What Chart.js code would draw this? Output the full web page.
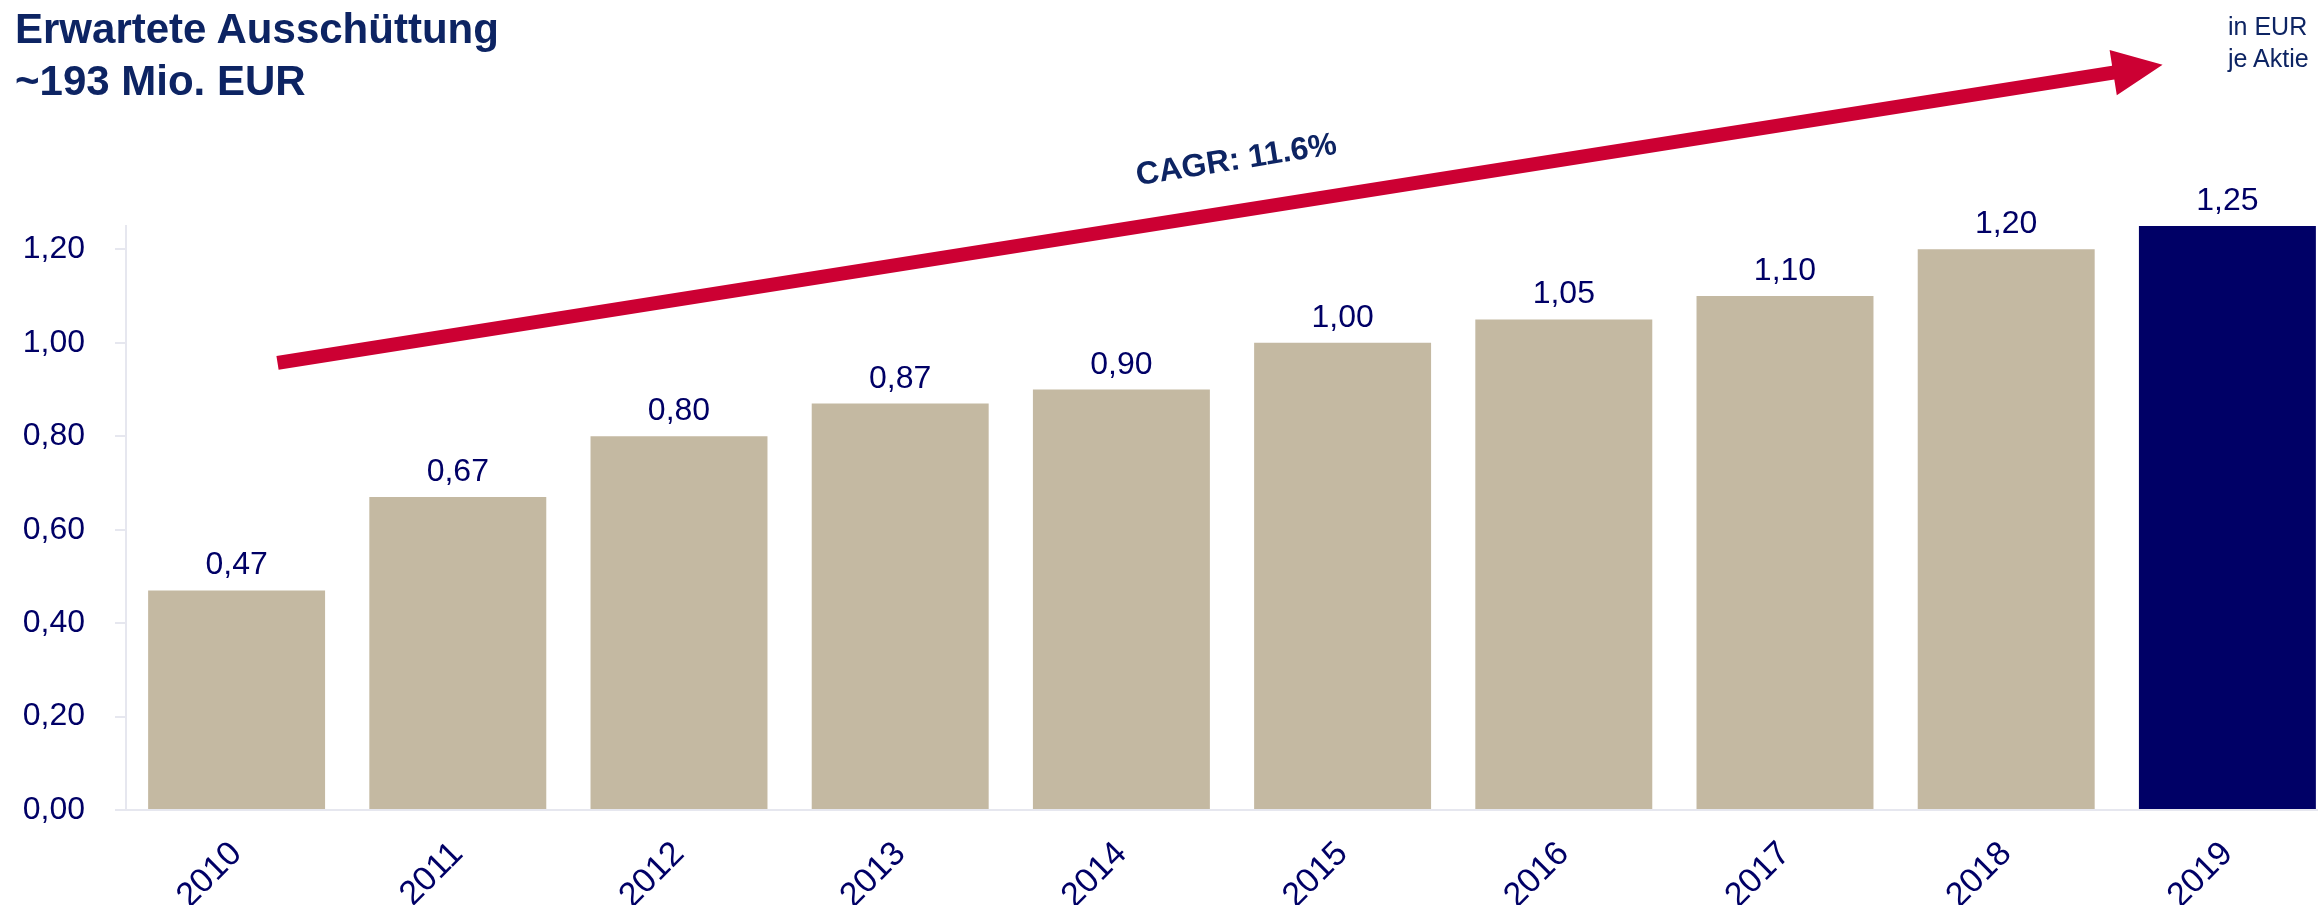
<!DOCTYPE html>
<html>
<head>
<meta charset="utf-8">
<script src="https://cdn.jsdelivr.net/npm/chart.js@4/dist/chart.umd.min.js"></script>
<style>
  html, body { margin: 0; padding: 0; background: #fff; overflow: hidden; }
  #wrap { position: relative; width: 2338px; height: 905px; }
  #chart { position: absolute; left: 0; top: 0; }
  .titel {
    position: absolute; left: 15px; top: 3px;
    font: bold 42px/52px "Liberation Sans", Arial, sans-serif;
    color: #0d2463;
  }
  .einheit {
    position: absolute; left: 2228px; top: 10px;
    font: 25px/32px "Liberation Sans", Arial, sans-serif;
    color: #0d2463;
  }
</style>
</head>
<body>
<div id="wrap">
  <canvas id="chart" width="2338" height="905"></canvas>
  <div class="titel">Erwartete Ausschüttung<br>~193 Mio. EUR</div>
  <div class="einheit">in EUR<br>je Aktie</div>
</div>
<script>
const jahre = ["2010", "2011", "2012", "2013", "2014", "2015", "2016", "2017", "2018", "2019"];
const ausschuettung = [0.47, 0.67, 0.80, 0.87, 0.90, 1.00, 1.05, 1.10, 1.20, 1.25];
const balkenFarben = ["#C4B9A2", "#C4B9A2", "#C4B9A2", "#C4B9A2", "#C4B9A2",
                      "#C4B9A2", "#C4B9A2", "#C4B9A2", "#C4B9A2", "#000066"];
const yTicks = [0, 0.2, 0.4, 0.6, 0.8, 1.0, 1.2];
const cagrText = "CAGR: 11.6%";
// Pfeil in Datenkoordinaten (x = Kategorie-Index, y = Wert)
const cagrPfeil = { von: [0.185, 0.957], bis: [8.707, 1.595] };
const cagrLabel = [4.52, 1.39];

const schrift = '"Liberation Sans", Arial, sans-serif';
const navy = "#000066";
const achsenGrau = "#e6e7ef";

const komma = (v) => v.toFixed(2).replace(".", ",");

// Werte über den Balken
const wertLabels = {
  id: "wertLabels",
  afterDatasetsDraw(chart) {
    const ctx = chart.ctx;
    const meta = chart.getDatasetMeta(0);
    ctx.save();
    ctx.font = "32px " + schrift;
    ctx.fillStyle = navy;
    ctx.textAlign = "center";
    ctx.textBaseline = "alphabetic";
    meta.data.forEach((bar, i) => {
      ctx.fillText(komma(ausschuettung[i]), bar.x, bar.y - 16);
    });
    ctx.restore();
  }
};

// CAGR-Pfeil
const cagrPlugin = {
  id: "cagrPfeil",
  afterDraw(chart) {
    const ctx = chart.ctx;
    const xs = chart.scales.x, ys = chart.scales.y;
    const x1 = xs.getPixelForValue(cagrPfeil.von[0]), y1 = ys.getPixelForValue(cagrPfeil.von[1]);
    const x2 = xs.getPixelForValue(cagrPfeil.bis[0]), y2 = ys.getPixelForValue(cagrPfeil.bis[1]);
    const winkel = Math.atan2(y2 - y1, x2 - x1);
    const laenge = Math.hypot(x2 - x1, y2 - y1);
    const kopfLaenge = 50, kopfBreite = 46, schaft = 14;

    ctx.save();
    ctx.translate(x1, y1);
    ctx.rotate(winkel);
    ctx.fillStyle = "#CC0033";
    ctx.beginPath();
    ctx.moveTo(0, -schaft / 2);
    ctx.lineTo(laenge - kopfLaenge, -schaft / 2);
    ctx.lineTo(laenge - kopfLaenge, -kopfBreite / 2);
    ctx.lineTo(laenge, 0);
    ctx.lineTo(laenge - kopfLaenge, kopfBreite / 2);
    ctx.lineTo(laenge - kopfLaenge, schaft / 2);
    ctx.lineTo(0, schaft / 2);
    ctx.closePath();
    ctx.fill();
    ctx.restore();

    const lx = xs.getPixelForValue(cagrLabel[0]), ly = ys.getPixelForValue(cagrLabel[1]);
    ctx.save();
    ctx.translate(lx, ly);
    ctx.rotate(winkel);
    ctx.font = "bold 32px " + schrift;
    ctx.fillStyle = "#0d2463";
    ctx.textAlign = "center";
    ctx.textBaseline = "middle";
    ctx.fillText(cagrText, 0, 0);
    ctx.restore();
  }
};

new Chart(document.getElementById("chart"), {
  type: "bar",
  data: {
    labels: jahre,
    datasets: [
      {
        data: ausschuettung,
        backgroundColor: balkenFarben,
        borderWidth: 0,
        barPercentage: 0.8,
        categoryPercentage: 1.0,
      },
    ],
  },
  options: {
    responsive: false,
    animation: false,
    layout: {
      padding: { top: 226, left: 0, right: 0, bottom: 0 },
    },
    scales: {
      x: {
        grid: { display: false, drawTicks: false },
        border: { display: true, color: achsenGrau, width: 2 },
        ticks: {
          color: navy,
          font: { family: schrift, size: 34 },
          minRotation: 45,
          maxRotation: 45,
          padding: 24,
        },
        afterFit: (scale) => { scale.height = 95; },
      },
      y: {
        min: 0,
        max: 1.25,
        afterBuildTicks: (scale) => {
          scale.ticks = yTicks.map((v) => ({ value: v }));
        },
        grid: {
          drawOnChartArea: false,
          color: achsenGrau,
          lineWidth: 2,
          tickLength: 11,
        },
        border: { display: true, color: achsenGrau, width: 2 },
        ticks: {
          color: navy,
          font: { family: schrift, size: 32 },
          padding: 30,
          callback: (v) => komma(v),
        },
        afterFit: (scale) => { scale.width = 126; },
      },
    },
    plugins: {
      legend: { display: false },
      tooltip: { enabled: false },
      title: { display: false },
    },
  },
  plugins: [wertLabels, cagrPlugin],
});
</script>
</body>
</html>
